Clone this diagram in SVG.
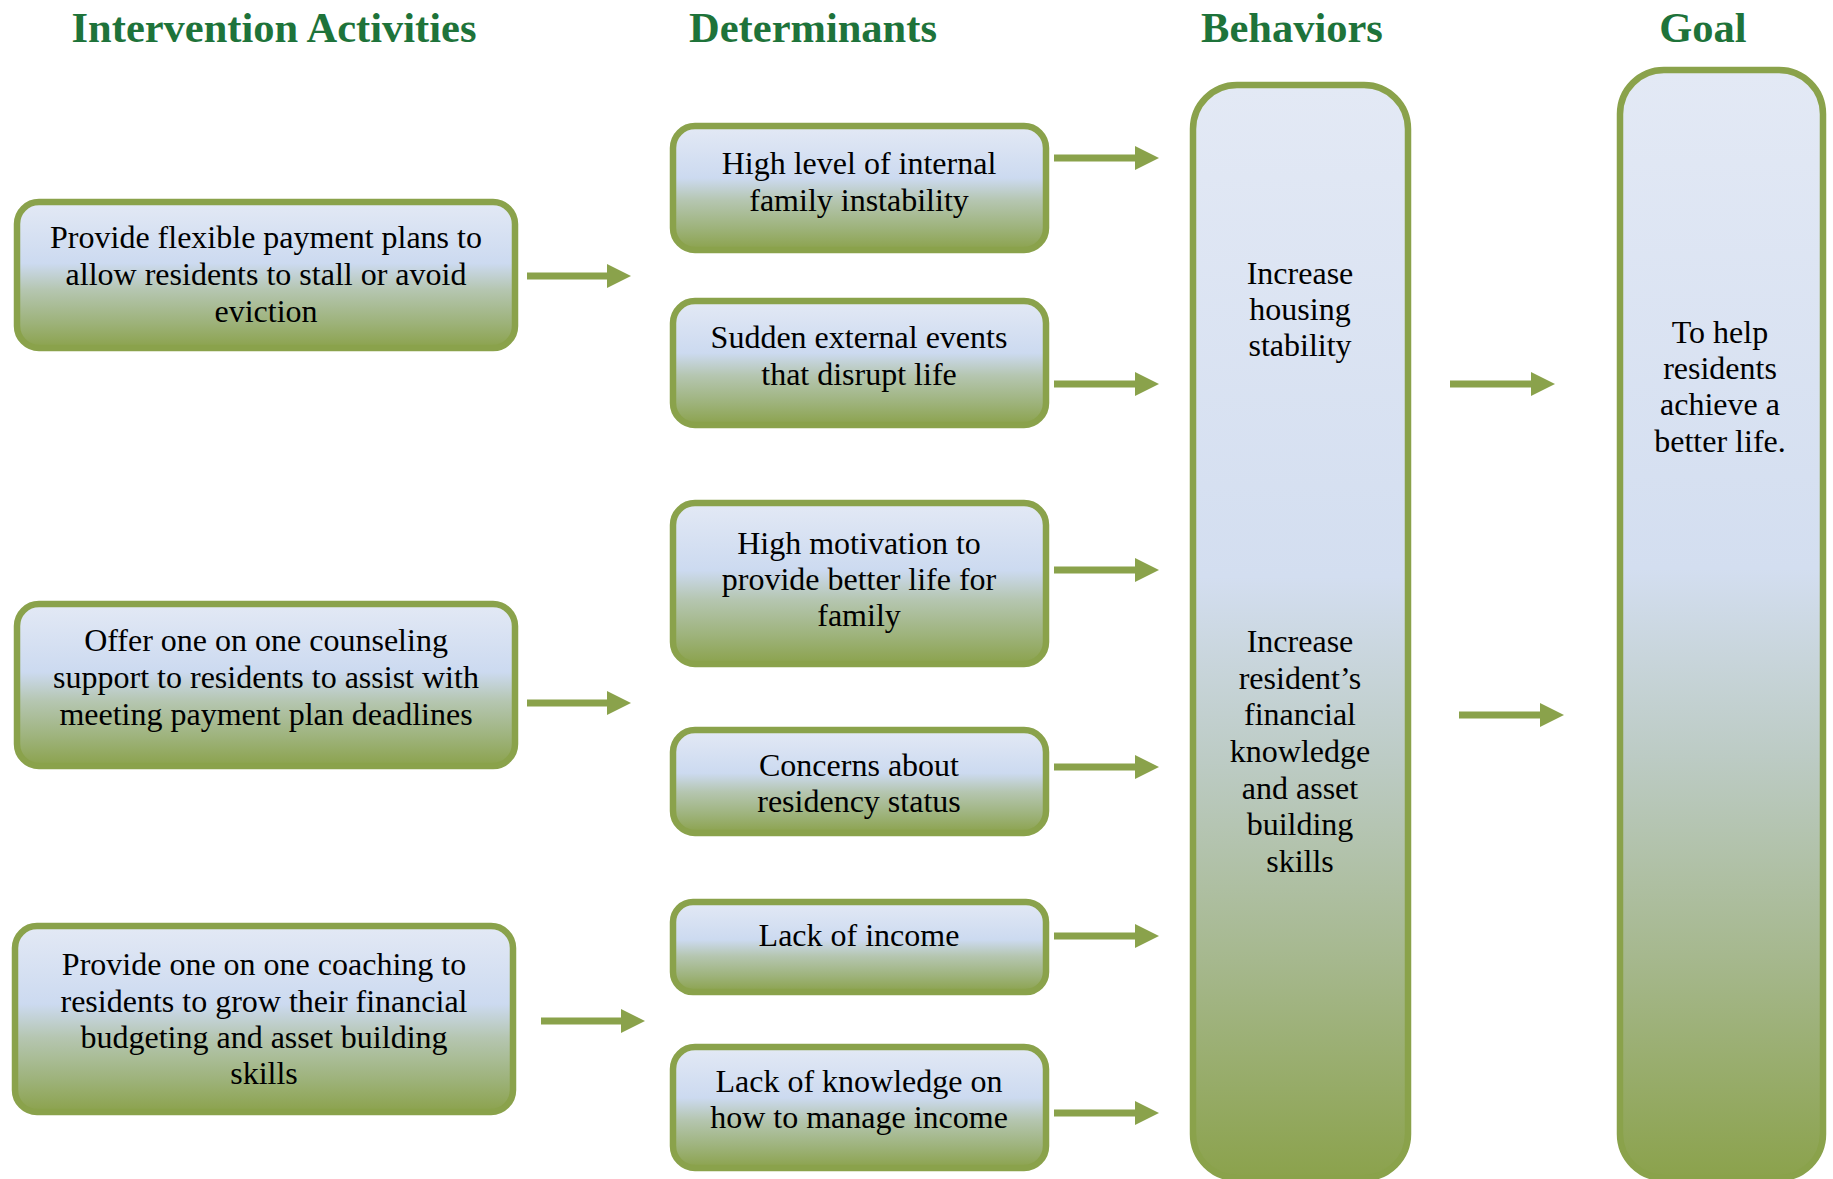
<svg xmlns="http://www.w3.org/2000/svg" width="1833" height="1179" viewBox="0 0 1833 1179">
  <style>
    .title { font-family: "Liberation Serif", "Times New Roman", serif; font-weight: bold; font-size: 42.5px; fill: #1E733A; text-anchor: middle; }
    .label { font-family: "Liberation Serif", "Times New Roman", serif; font-size: 32px; fill: #000; text-anchor: middle; }
    .box { fill: url(#boxFill); stroke: #8AA24B; stroke-width: 6.5; }
    .tall { fill: url(#tallFill); stroke: #8AA24B; stroke-width: 6.5; }
    .arrow { stroke: #8AA24B; stroke-width: 7; fill: none; marker-end: url(#head); }
  </style>
  <defs>
    <linearGradient id="boxFill" x1="0" y1="0" x2="0" y2="1">
      <stop offset="0" stop-color="#E3E9F5"/>
      <stop offset="0.42" stop-color="#CCDAF0"/>
      <stop offset="0.6" stop-color="#B5C6B1"/>
      <stop offset="0.82" stop-color="#9EB37C"/>
      <stop offset="1" stop-color="#8BA24C"/>
    </linearGradient>
    <linearGradient id="tallFill" x1="0" y1="0" x2="0" y2="1">
      <stop offset="0" stop-color="#E3E9F5"/>
      <stop offset="0.45" stop-color="#D3DEF0"/>
      <stop offset="0.62" stop-color="#BCCBC4"/>
      <stop offset="0.8" stop-color="#A6B88E"/>
      <stop offset="1" stop-color="#8BA24C"/>
    </linearGradient>
    <marker id="head" markerUnits="userSpaceOnUse" markerWidth="25" markerHeight="25" refX="0" refY="12" orient="auto">
      <path d="M0,0 L24,12 L0,24 Z" fill="#8AA24B"/>
    </marker>
  </defs>

  <!-- column headings -->
  <g id="headings">
    <text class="title" x="274" y="42">Intervention Activities</text>
    <text class="title" x="813" y="42">Determinants</text>
    <text class="title" x="1292" y="42">Behaviors</text>
    <text class="title" x="1703" y="42">Goal</text>
  </g>

  <!-- intervention activities -->
  <g id="activity-payment-plans">
    <rect class="box" x="17" y="202" width="498" height="146" rx="22"/>
    <text class="label" x="266" y="248">Provide flexible payment plans to</text>
    <text class="label" x="266" y="285">allow residents to stall or avoid</text>
    <text class="label" x="266" y="322">eviction</text>
  </g>
  <g id="activity-counseling">
    <rect class="box" x="17" y="604" width="498" height="162" rx="22"/>
    <text class="label" x="266" y="651">Offer one on one counseling</text>
    <text class="label" x="266" y="688">support to residents to assist with</text>
    <text class="label" x="266" y="725">meeting payment plan deadlines</text>
  </g>
  <g id="activity-coaching">
    <rect class="box" x="15" y="926" width="498" height="186" rx="22"/>
    <text class="label" x="264" y="975">Provide one on one coaching to</text>
    <text class="label" x="264" y="1012">residents to grow their financial</text>
    <text class="label" x="264" y="1048">budgeting and asset building</text>
    <text class="label" x="264" y="1084">skills</text>
  </g>

  <!-- determinants -->
  <g id="det-internal-instability">
    <rect class="box" x="673" y="126" width="373" height="124" rx="22"/>
    <text class="label" x="859" y="174">High level of internal</text>
    <text class="label" x="859" y="211">family instability</text>
  </g>
  <g id="det-external-events">
    <rect class="box" x="673" y="301" width="373" height="124" rx="22"/>
    <text class="label" x="859" y="348">Sudden external events</text>
    <text class="label" x="859" y="385">that disrupt life</text>
  </g>
  <g id="det-motivation">
    <rect class="box" x="673" y="503" width="373" height="161" rx="22"/>
    <text class="label" x="859" y="554">High motivation to</text>
    <text class="label" x="859" y="590">provide better life for</text>
    <text class="label" x="859" y="626">family</text>
  </g>
  <g id="det-residency">
    <rect class="box" x="673" y="730" width="373" height="103" rx="22"/>
    <text class="label" x="859" y="776">Concerns about</text>
    <text class="label" x="859" y="812">residency status</text>
  </g>
  <g id="det-income">
    <rect class="box" x="673" y="902" width="373" height="90" rx="20"/>
    <text class="label" x="859" y="946">Lack of income</text>
  </g>
  <g id="det-knowledge">
    <rect class="box" x="673" y="1047" width="373" height="121" rx="22"/>
    <text class="label" x="859" y="1092">Lack of knowledge on</text>
    <text class="label" x="859" y="1128">how to manage income</text>
  </g>

  <!-- behaviors -->
  <g id="behaviors">
    <rect class="tall" x="1193" y="85" width="215" height="1093" rx="44"/>
    <text class="label" x="1300" y="284">Increase</text>
    <text class="label" x="1300" y="320">housing</text>
    <text class="label" x="1300" y="356">stability</text>
    <text class="label" x="1300" y="652">Increase</text>
    <text class="label" x="1300" y="689">resident’s</text>
    <text class="label" x="1300" y="725">financial</text>
    <text class="label" x="1300" y="762">knowledge</text>
    <text class="label" x="1300" y="799">and asset</text>
    <text class="label" x="1300" y="835">building</text>
    <text class="label" x="1300" y="872">skills</text>
  </g>

  <!-- goal -->
  <g id="goal">
    <rect class="tall" x="1620" y="70" width="203" height="1108" rx="44"/>
    <text class="label" x="1720" y="343">To help</text>
    <text class="label" x="1720" y="379">residents</text>
    <text class="label" x="1720" y="415">achieve a</text>
    <text class="label" x="1720" y="452">better life.</text>
  </g>

  <!-- connectors -->
  <g id="connectors">
    <line class="arrow" x1="527" y1="276" x2="607" y2="276"/>
    <line class="arrow" x1="527" y1="703" x2="607" y2="703"/>
    <line class="arrow" x1="541" y1="1021" x2="621" y2="1021"/>
    <line class="arrow" x1="1054" y1="158" x2="1135" y2="158"/>
    <line class="arrow" x1="1054" y1="384" x2="1135" y2="384"/>
    <line class="arrow" x1="1054" y1="570" x2="1135" y2="570"/>
    <line class="arrow" x1="1054" y1="767" x2="1135" y2="767"/>
    <line class="arrow" x1="1054" y1="936" x2="1135" y2="936"/>
    <line class="arrow" x1="1054" y1="1113" x2="1135" y2="1113"/>
    <line class="arrow" x1="1450" y1="384" x2="1531" y2="384"/>
    <line class="arrow" x1="1459" y1="715" x2="1540" y2="715"/>
  </g>
</svg>
